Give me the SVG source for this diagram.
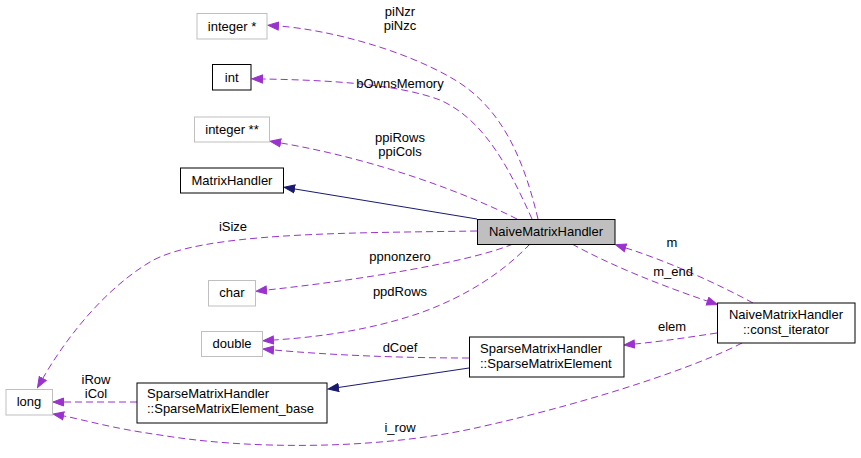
<svg xmlns="http://www.w3.org/2000/svg" width="861" height="458" viewBox="0 0 861 458">
<style>
text{font-family:"Liberation Sans",Arial,sans-serif;font-size:13px;fill:#000}
.c{text-anchor:middle}
.nb{fill:#fff;stroke:#000;stroke-width:1}
.ng{fill:#fff;stroke:#bfbfbf;stroke-width:1}
.nm{fill:#bfbfbf;stroke:#000;stroke-width:1}
.u{fill:none;stroke:#9a32cd;stroke-width:1;stroke-dasharray:7,4;marker-end:url(#ap)}
.i{fill:none;stroke:#191970;stroke-width:1;marker-end:url(#an)}
</style>
<defs>
<marker id="ap" markerWidth="12" markerHeight="10" refX="0" refY="5" orient="auto" markerUnits="userSpaceOnUse" viewBox="0 0 12 10"><path d="M0.5,1 L11,5 L0.5,9 z" fill="#9a32cd" stroke="#9a32cd" stroke-width="1"/></marker>
<marker id="an" markerWidth="12" markerHeight="10" refX="0" refY="5" orient="auto" markerUnits="userSpaceOnUse" viewBox="0 0 12 10"><path d="M0.5,1 L11,5 L0.5,9 z" fill="#191970" stroke="#191970" stroke-width="1"/></marker>
</defs>
<rect width="861" height="458" fill="#fff"/>
<g id="connectors">
<path class="u" d="M538,219 C525,165 505,110 455,80 C405,50 330,30 279,26"/>
<path class="u" d="M532,219 C510,170 485,120 440,100 C395,83 320,80 263,79"/>
<path class="u" d="M517,219 C470,195 380,160 281,143"/>
<path class="i" d="M477,219 L295,189"/>
<path class="u" d="M477,231 C350,233 200,232 150,262 C100,292 62,345 43,378"/>
<path class="u" d="M513,244 C470,262 360,280 267,290"/>
<path class="u" d="M530,244 C505,270 470,295 420,313 C370,330 320,337 274,340"/>
<path class="u" d="M469,358 C400,358 330,355 274,350"/>
<path class="i" d="M469,368 L339,387.4"/>
<path class="u" d="M137,402 L64,402"/>
<path class="u" d="M742,343 C700,365 600,400 480,427 C380,450 250,450 160,435 C110,428 85,420 64,416"/>
<path class="u" d="M753,303 C720,285 670,262 626,248"/>
<path class="u" d="M572,244 C610,265 660,285 707,301"/>
<path class="u" d="M717,333 C690,337 665,341 635,344"/>
<text class="c" x="400" y="16">piNzr</text>
<text class="c" x="400" y="30">piNzc</text>
<text class="c" x="400" y="88">bOwnsMemory</text>
<text class="c" x="400" y="142">ppiRows</text>
<text class="c" x="400" y="156">ppiCols</text>
<text class="c" x="233" y="231">iSize</text>
<text class="c" x="400" y="261">ppnonzero</text>
<text class="c" x="400" y="296">ppdRows</text>
<text class="c" x="400" y="352">dCoef</text>
<text class="c" x="96" y="384">iRow</text>
<text class="c" x="96" y="398">iCol</text>
<text class="c" x="400" y="432">i_row</text>
<text class="c" x="672" y="247">m</text>
<text class="c" x="673" y="276">m_end</text>
<text class="c" x="672" y="331">elem</text>
</g>
<g id="node-integer-ptr"><rect class="ng" x="197" y="13.5" width="70" height="25.5"/><text class="c" x="232" y="31">integer *</text></g>
<g id="node-int"><rect class="nb" x="212.5" y="64.5" width="38.5" height="25.5"/><text class="c" x="231.7" y="82">int</text></g>
<g id="node-integer-ptrptr"><rect class="ng" x="194.5" y="117" width="75" height="25"/><text class="c" x="232" y="134">integer **</text></g>
<g id="node-MatrixHandler"><rect class="nb" x="180.5" y="168" width="103" height="25"/><text class="c" x="232" y="185">MatrixHandler</text></g>
<g id="node-NaiveMatrixHandler"><rect class="nm" x="477.5" y="219.5" width="137.5" height="25"/><text class="c" x="546" y="236">NaiveMatrixHandler</text></g>
<g id="node-const_iterator"><rect class="nb" x="717.5" y="303" width="137.5" height="40"/><text class="c" x="786" y="319">NaiveMatrixHandler</text><text class="c" x="786" y="334">::const_iterator</text></g>
<g id="node-SparseMatrixElement"><rect class="nb" x="469.5" y="337" width="154.5" height="40"/><text x="480" y="353">SparseMatrixHandler</text><text x="480" y="368">::SparseMatrixElement</text></g>
<g id="node-char"><rect class="ng" x="208.5" y="280.5" width="47" height="25.5"/><text class="c" x="232" y="297">char</text></g>
<g id="node-double"><rect class="ng" x="201.5" y="331.5" width="61" height="25"/><text class="c" x="232" y="348">double</text></g>
<g id="node-long"><rect class="ng" x="6" y="389.5" width="46.5" height="25.5"/><text class="c" x="29" y="406">long</text></g>
<g id="node-SparseMatrixElement_base"><rect class="nb" x="137" y="383" width="190" height="40"/><text x="147" y="398">SparseMatrixHandler</text><text x="147" y="413">::SparseMatrixElement_base</text></g>
</svg>
